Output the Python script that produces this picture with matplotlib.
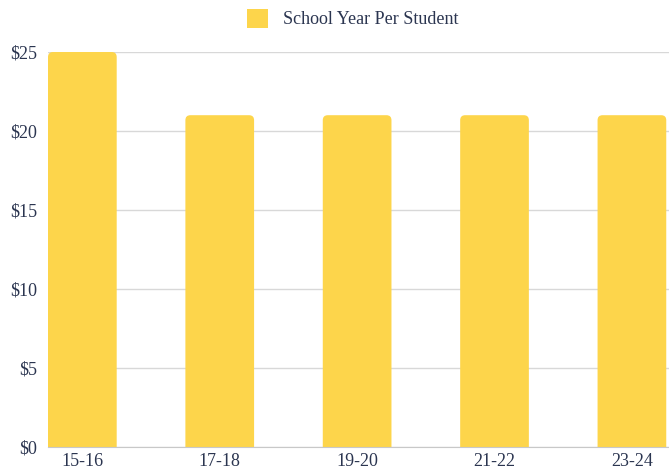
import matplotlib.pyplot as plt
import numpy as np
from matplotlib.patches import FancyBboxPatch, Patch

years = ['15-16', '17-18', '19-20', '21-22', '23-24']
per_student = [25, 21, 21, 21, 21]
yticks = [0, 5, 10, 15, 20, 25]

plt.rcParams['font.family'] = ['Liberation Serif', 'DejaVu Serif']
txt = '#2b3550'
bar_col = '#fdd54b'

fig = plt.figure(figsize=(6.69, 4.72), dpi=100)
ax = fig.add_axes([48/669, 1-447/472, 1-48/669, (447-52)/472])

x = np.arange(len(years))
bars = ax.bar(x, per_student, width=0.5, color=bar_col, zorder=3)

ax.set_xlim(-0.25, 4.27)
ax.set_ylim(0, 25)

# rounded top corners: swap each bar for a rounded box that runs below the baseline
px_x = (4.27 + 0.25) / (669 - 48)
px_y = 25 / (447 - 52)
for b in bars:
    b.set_visible(False)
    fb = FancyBboxPatch((b.get_x(), -2), b.get_width(), b.get_height() + 2,
                        boxstyle='round,pad=0,rounding_size=%f' % (5 * px_x),
                        mutation_aspect=px_y / px_x, fc=bar_col, ec='none', zorder=3)
    ax.add_patch(fb)

ax.set_yticks(yticks)
ax.set_yticklabels(['$%d' % v for v in yticks])
ax.set_xticks(x)
ax.set_xticklabels(years)
ax.grid(axis='y', color='#d8d8d8', lw=1, zorder=0)
for s in ['top', 'right', 'left']:
    ax.spines[s].set_visible(False)
ax.spines['bottom'].set_color('#c8c8c8')
ax.spines['bottom'].set_zorder(4)
ax.tick_params(length=0, labelsize=13, colors=txt)
ax.tick_params(axis='y', pad=8)
ax.tick_params(axis='x', pad=4)
ax.set_axisbelow(True)

handle = Patch(fc=bar_col, ec='none', label='School Year Per Student')
fig.legend(handles=[handle], loc='upper center', bbox_to_anchor=(0.527, 1.016),
           frameon=False, fontsize=13, labelcolor=txt, handlelength=1.2,
           handleheight=1.25, handletextpad=0.8)

fig.savefig('out.png', dpi=100)
